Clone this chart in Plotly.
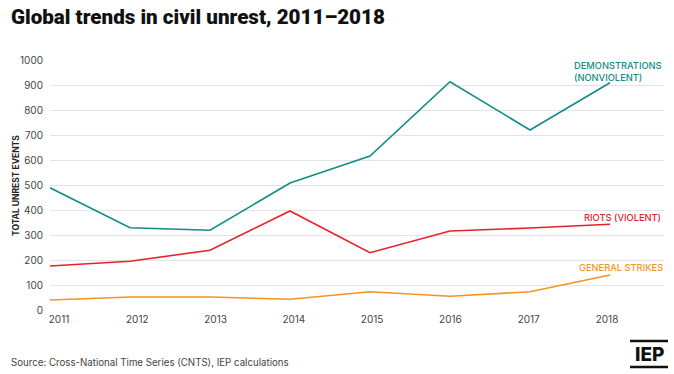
import plotly.graph_objects as go

years = [2011, 2012, 2013, 2014, 2015, 2016, 2017, 2018]
demonstrations = [489, 329, 319, 508, 616, 913, 720, 909]
riots = [176, 195, 239, 396, 229, 316, 328, 343]
strikes = [40, 52, 52, 43, 73, 55, 73, 140]
y_ticks = [0, 100, 200, 300, 400, 500, 600, 700, 800, 900, 1000]
x_labels = [str(y) for y in years]

TEAL = "#138C86"
RED = "#E8202A"
ORANGE = "#F7941D"
FONT = "Inter"

W, H = 674, 374
L, R, T, B = 50, 10, 60, 64
PW = W - L - R

fig = go.Figure()
for vals, col in [(strikes, ORANGE), (riots, RED), (demonstrations, TEAL)]:
    fig.add_trace(go.Scatter(x=years, y=vals, mode="lines",
                             line=dict(color=col, width=1.6),
                             hoverinfo="skip", showlegend=False))
# invisible trace carrying the label axis
fig.add_trace(go.Scatter(x=years, y=strikes, mode="lines", xaxis="x2",
                         line=dict(color="rgba(0,0,0,0)", width=0),
                         hoverinfo="skip", showlegend=False))

# label axis: first label centred 9px right of the plot's left edge, last at 607px
lab_scale = (607 - 59) / (years[-1] - years[0])
lab_lo = years[0] - (59 - L) / lab_scale
lab_hi = lab_lo + PW / lab_scale

fig.update_layout(
    width=W, height=H,
    margin=dict(l=L, r=R, t=T, b=B),
    paper_bgcolor="white", plot_bgcolor="white",
    font=dict(family=FONT, color="#444"),
    xaxis=dict(range=[years[0], years[0] + PW / 80], showticklabels=False,
               showgrid=False, zeroline=False, showline=False, ticks=""),
    xaxis2=dict(range=[lab_lo, lab_hi], overlaying="x", side="bottom",
                tickvals=years, ticktext=x_labels, showgrid=False,
                zeroline=False, showline=False, ticks="",
                tickfont=dict(size=10, color="#444"), ticklabelstandoff=2),
    yaxis=dict(range=[0, 1000], tickvals=y_ticks, showgrid=True,
               gridcolor="#e3e3e3", gridwidth=1, zeroline=False,
               showline=False, ticks="", ticklabelstandoff=6,
               tickfont=dict(size=10, color="#444")),
)

def paper_x(px):
    return (px - L) / PW

def paper_y(py):
    return (H - B - py) / (H - T - B)

annots = [
    dict(text="DEMONSTRATIONS<br>(NONVIOLENT)", x=664, y=71, color=TEAL),
    dict(text="RIOTS (VIOLENT)", x=663, y=217, color=RED),
    dict(text="GENERAL STRIKES", x=665, y=267, color=ORANGE),
]
for a in annots:
    fig.add_annotation(text=a["text"], xref="paper", yref="paper",
                       x=paper_x(a["x"]), y=paper_y(a["y"]),
                       xanchor="right", yanchor="middle", align="left",
                       showarrow=False,
                       font=dict(size=9.3, color=a["color"], family=FONT, weight=500))

# y-axis title
fig.add_annotation(text="TOTAL UNREST EVENTS", xref="paper", yref="paper",
                   x=paper_x(16), y=paper_y(186), textangle=-90,
                   xanchor="center", yanchor="middle", showarrow=False,
                   font=dict(size=8.5, color="#222", family=FONT, weight=700))

# title
fig.add_annotation(text="Global trends in civil unrest, 2011–2018",
                   xref="paper", yref="paper", x=paper_x(9), y=paper_y(17),
                   xanchor="left", yanchor="middle", showarrow=False,
                   font=dict(size=20.6, color="#111", family="Roboto", weight=900))

# source
fig.add_annotation(text="Source: Cross-National Time Series (CNTS), IEP calculations",
                   xref="paper", yref="paper", x=paper_x(9), y=paper_y(362),
                   xanchor="left", yanchor="middle", showarrow=False,
                   font=dict(size=9.7, color="#444", family=FONT))

# IEP logo
fig.add_annotation(text="IEP", xref="paper", yref="paper",
                   x=paper_x(649), y=paper_y(354), xanchor="center",
                   yanchor="middle", showarrow=False,
                   font=dict(size=19, color="#111", family=FONT, weight=800))
for py in (341, 367):
    fig.add_shape(type="line", xref="paper", yref="paper",
                  x0=paper_x(630), x1=paper_x(668), y0=paper_y(py), y1=paper_y(py),
                  line=dict(color="#111", width=2.5))

fig.write_html("out.html", config={"displayModeBar": False},
               post_script="document.body.style.margin='0';")
